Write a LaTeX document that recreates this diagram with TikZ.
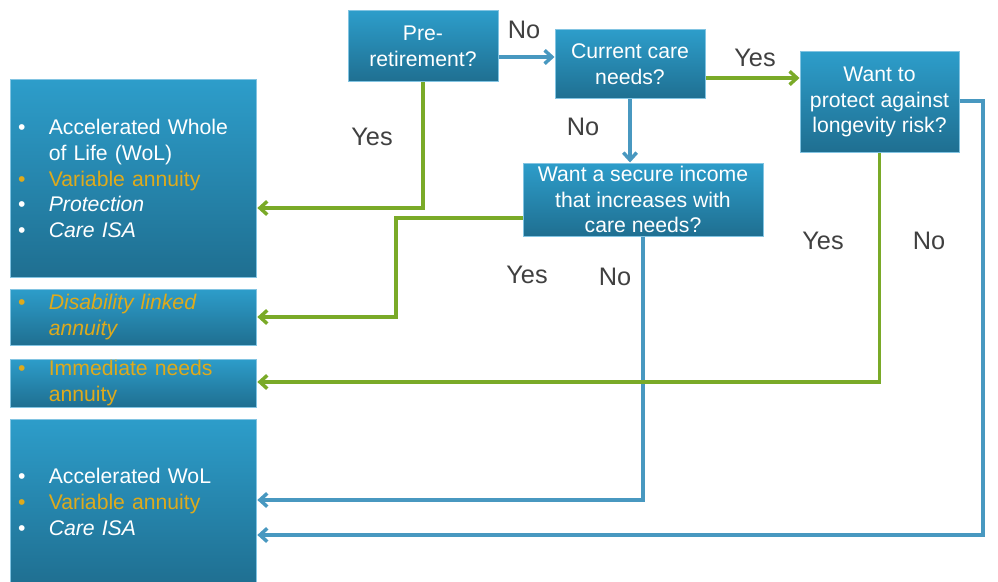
\documentclass[tikz,border=0pt]{standalone}
\usepackage{fontspec}
\setmainfont{Liberation Sans}
\usetikzlibrary{arrows.meta}
\definecolor{boxtop}{RGB}{45,157,202}
\definecolor{boxbot}{RGB}{31,111,145}
\definecolor{boxrim}{RGB}{130,196,226}
\definecolor{yesgreen}{RGB}{122,170,40}
\definecolor{noblue}{RGB}{72,152,192}
\definecolor{gold}{RGB}{222,170,28}
\definecolor{labelgray}{RGB}{64,64,64}
\newcommand{\itm}{\makebox[23pt][l]{\textbullet}}
\newcommand{\cont}{\hspace*{23pt}}

\begin{document}
\begin{tikzpicture}[x=0.75pt, y=-0.75pt,
  qbox/.style={draw=boxrim, line width=0.75pt, top color=boxtop, bottom color=boxbot,
    text=white, align=center, inner sep=0pt, font=\fontsize{15.9}{19.4}\selectfont},
  obox/.style={qbox, align=left, text width=173pt, inner xsep=6pt, inner ysep=0pt},
  yesarr/.style={draw=yesgreen, line width=2.6pt, -{Straight Barb[length=5.5pt,width=10pt]}},
  noarr/.style={draw=noblue, line width=2.6pt, -{Straight Barb[length=5.5pt,width=10pt]}},
  lbl/.style={text=labelgray, font=\fontsize{19}{22}\selectfont}]
  \useasboundingbox (0,0) rectangle (998,581);
  \clip (0,0) rectangle (998,581);

  \node[qbox, minimum width=112.5pt, minimum height=53.25pt] (pre) at (423,46.5) {Pre-\\retirement?};
  \node[qbox, minimum width=112.5pt, minimum height=51.75pt] (care) at (630,64.5) {Current care\\needs?};
  \node[qbox, minimum width=119.25pt, minimum height=75pt] (prot) at (879.5,102) {Want to\\protect against\\longevity risk?};
  \node[qbox, minimum width=180pt, minimum height=54.75pt] (secure) at (643,199.5) {Want a secure income\\that increases with\\care needs?};

  \node[obox, minimum height=147.75pt] (opt1) at (133.5,178.5)
    {\itm Accelerated Whole\\\cont of Life (WoL)\\{\color{gold}\itm Variable annuity}\\\itm\textit{Protection}\\\itm\textit{Care ISA}};
  \node[obox, minimum height=42pt] (opt2) at (133.5,317)
    {\color{gold}\itm\textit{Disability linked}\\\color{gold}\cont\textit{annuity}};
  \node[obox, minimum height=36pt] (opt3) at (133.5,383)
    {\color{gold}\itm Immediate needs\\\color{gold}\cont annuity};
  \node[obox, minimum height=124.5pt] (opt4) at (133.5,502)
    {\itm Accelerated WoL\\{\color{gold}\itm Variable annuity}\\\itm\textit{Care ISA}};

  \draw[noarr] (pre.east |- 0,57) -- (care.west |- 0,57);
  \draw[yesarr] (care.east |- 0,78) -- (prot.west |- 0,78);
  \draw[noarr] (care.south) -- (care.south |- secure.north);
  \draw[yesarr] (pre.south) |- (opt1.east |- 0,208);
  \draw[yesarr] (secure.west |- 0,218) -- (396,218) |- (opt2.east);
  \draw[noarr] (secure.south) |- (opt4.east |- 0,500);
  \draw[yesarr] (prot.south) |- (opt3.east |- 0,382);
  \draw[noarr] (prot.east |- 0,101) -- (983,101) |- (opt4.east |- 0,535);

  \node[lbl] (no1) at (524,30) {No};
  \node[lbl] (yes1) at (755,58) {Yes};
  \node[lbl] (no2) at (583,127) {No};
  \node[lbl] (yes2) at (372,137) {Yes};
  \node[lbl] (yes3) at (527,275) {Yes};
  \node[lbl] (no3) at (615,277) {No};
  \node[lbl] (yes4) at (823,241) {Yes};
  \node[lbl] (no4) at (929,241) {No};
\end{tikzpicture}
\end{document}
